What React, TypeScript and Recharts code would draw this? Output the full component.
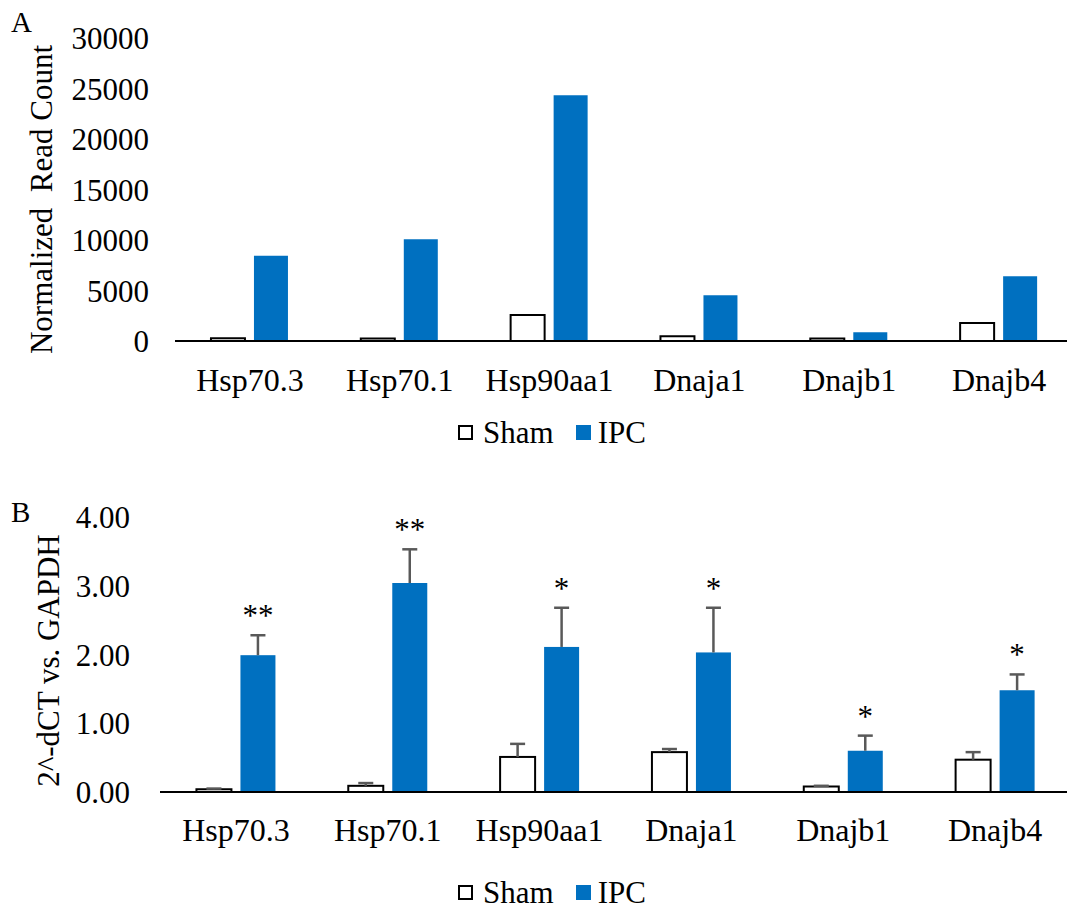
import { Bar, BarChart, XAxis, YAxis } from 'recharts'

const genes = ['Hsp70.3', 'Hsp70.1', 'Hsp90aa1', 'Dnaja1', 'Dnajb1', 'Dnajb4']

// panel A - RNA-seq normalized read counts
const readSham = [260, 250, 2570, 460, 240, 1780]
const readIpc = [8450, 10070, 24330, 4520, 860, 6400]
const readTicks = [0, 5000, 10000, 15000, 20000, 25000, 30000]

// panel B - qPCR 2^-dCT vs GAPDH
const qpcrSham = [0.04, 0.09, 0.51, 0.58, 0.08, 0.47]
const qpcrShamErr = [0.01, 0.04, 0.19, 0.045, 0.01, 0.11]
const qpcrIpc = [1.99, 3.04, 2.11, 2.03, 0.6, 1.48]
const qpcrIpcErr = [0.29, 0.49, 0.57, 0.65, 0.22, 0.23]
const qpcrMarks = ['**', '**', '*', '*', '*', '*']
const qpcrTicks = [0, 1, 2, 3, 4]

const BLUE = '#0070C0'
const ERR = '#595959'
const FONT = '"Liberation Serif", "Times New Roman", serif'

const readData = genes.map((g, i) => ({ gene: g, sham: readSham[i], ipc: readIpc[i] }))
const qpcrData = genes.map((g, i) => ({
  gene: g,
  sham: qpcrSham[i],
  shamErr: qpcrShamErr[i],
  ipc: qpcrIpc[i],
  ipcErr: qpcrIpcErr[i],
  mark: qpcrMarks[i],
}))

// bar + upward-only error bar (+ optional significance mark)
function errorShape(key: string, errKey: string, fill: string, stroke?: string, withMark?: boolean) {
  return (props: any) => {
    const { x, y, width, height, payload } = props
    const val = payload[key]
    const err = payload[errKey]
    const perUnit = val ? height / val : 0
    const cx = x + width / 2
    const top = y - err * perUnit
    return (
      <g>
        <rect
          x={x}
          y={y}
          width={width}
          height={height}
          fill={fill}
          stroke={stroke}
          strokeWidth={stroke ? 2 : 0}
        />
        <line x1={cx} x2={cx} y1={y} y2={top} stroke={ERR} strokeWidth={2.5} />
        <line x1={cx - 7.5} x2={cx + 7.5} y1={top} y2={top} stroke={ERR} strokeWidth={2.5} />
        {withMark && (
          <text x={cx} y={top - 9} textAnchor='middle' fontSize={31} fontFamily={FONT} fill='#000'>
            {payload.mark}
          </text>
        )}
      </g>
    )
  }
}

function yTitle(text: string, baseX: number, shiftY: number) {
  return (props: any) => {
    const vb = props.viewBox
    const x = vb.x + baseX
    const y = vb.y + vb.height / 2 + shiftY
    return (
      <text
        x={x}
        y={y}
        transform={`rotate(-90 ${x} ${y})`}
        textAnchor='middle'
        fontSize={31}
        fontFamily={FONT}
        fill='#000'
        style={{ whiteSpace: 'pre' }}
      >
        {text}
      </text>
    )
  }
}

function LegendRow({ top }: { top: number }) {
  return (
    <div
      style={{
        position: 'absolute',
        left: 458,
        top,
        display: 'flex',
        alignItems: 'center',
        fontFamily: FONT,
        fontSize: 31,
        lineHeight: '31px',
        color: '#000',
      }}
    >
      <span style={{ width: 11, height: 11, border: '2px solid #000', background: '#fff' }} />
      <span style={{ marginLeft: 10 }}>Sham</span>
      <span style={{ width: 15, height: 15, background: BLUE, marginLeft: 22 }} />
      <span style={{ marginLeft: 7 }}>IPC</span>
    </div>
  )
}

const panelLetter = { position: 'absolute' as const, left: 11, fontFamily: FONT, fontSize: 29, lineHeight: '29px' }
const tickStyle = { fill: '#000', fontSize: 31, fontFamily: FONT }
const xTickStyle = { fill: '#000', fontSize: 32, fontFamily: FONT }

export default function App() {
  return (
    <div
      style={{
        position: 'absolute',
        left: 0,
        top: 0,
        width: 1067,
        height: 911,
        overflow: 'hidden',
        background: '#fff',
      }}
    >
      <div style={{ ...panelLetter, top: 8 }}>A</div>
      <div style={{ position: 'absolute', left: 0, top: 0 }}>
        <BarChart
          width={1080}
          height={420}
          data={readData}
          margin={{ top: 38, right: 6, bottom: 0, left: 0 }}
          barCategoryGap='24%'
          barGap={9}
        >
          <XAxis
            dataKey='gene'
            height={79}
            tickLine={false}
            tickSize={0}
            tickMargin={27}
            axisLine={{ stroke: '#000', strokeWidth: 2 }}
            tick={xTickStyle}
            interval={0}
          />
          <YAxis
            width={175}
            domain={[0, 30000]}
            ticks={readTicks}
            axisLine={false}
            tickLine={false}
            tickSize={0}
            tickMargin={26}
            tick={tickStyle}
            label={yTitle('Normalized  Read Count', 52, 10)}
          />
          <Bar dataKey='sham' fill='#fff' stroke='#000' strokeWidth={2} isAnimationActive={false} />
          <Bar dataKey='ipc' fill={BLUE} isAnimationActive={false} />
        </BarChart>
      </div>
      <LegendRow top={417} />

      <div style={{ ...panelLetter, top: 498 }}>B</div>
      <div style={{ position: 'absolute', left: 0, top: 480 }}>
        <BarChart
          width={1080}
          height={400}
          data={qpcrData}
          margin={{ top: 37, right: 9, bottom: 0, left: 0 }}
          barCategoryGap='24%'
          barGap={9}
        >
          <XAxis
            dataKey='gene'
            height={88}
            tickLine={false}
            tickSize={0}
            tickMargin={26}
            axisLine={{ stroke: '#000', strokeWidth: 2 }}
            tick={xTickStyle}
            interval={0}
          />
          <YAxis
            width={160}
            domain={[0, 4]}
            ticks={qpcrTicks}
            tickFormatter={(v: number) => v.toFixed(2)}
            axisLine={false}
            tickLine={false}
            tickSize={0}
            tickMargin={30}
            tick={tickStyle}
            label={yTitle('2^-dCT vs. GAPDH', 59, 6)}
          />
          <Bar
            dataKey='sham'
            isAnimationActive={false}
            shape={errorShape('sham', 'shamErr', '#fff', '#000')}
          />
          <Bar
            dataKey='ipc'
            isAnimationActive={false}
            shape={errorShape('ipc', 'ipcErr', BLUE, undefined, true)}
          />
        </BarChart>
      </div>
      <LegendRow top={877} />
    </div>
  )
}
